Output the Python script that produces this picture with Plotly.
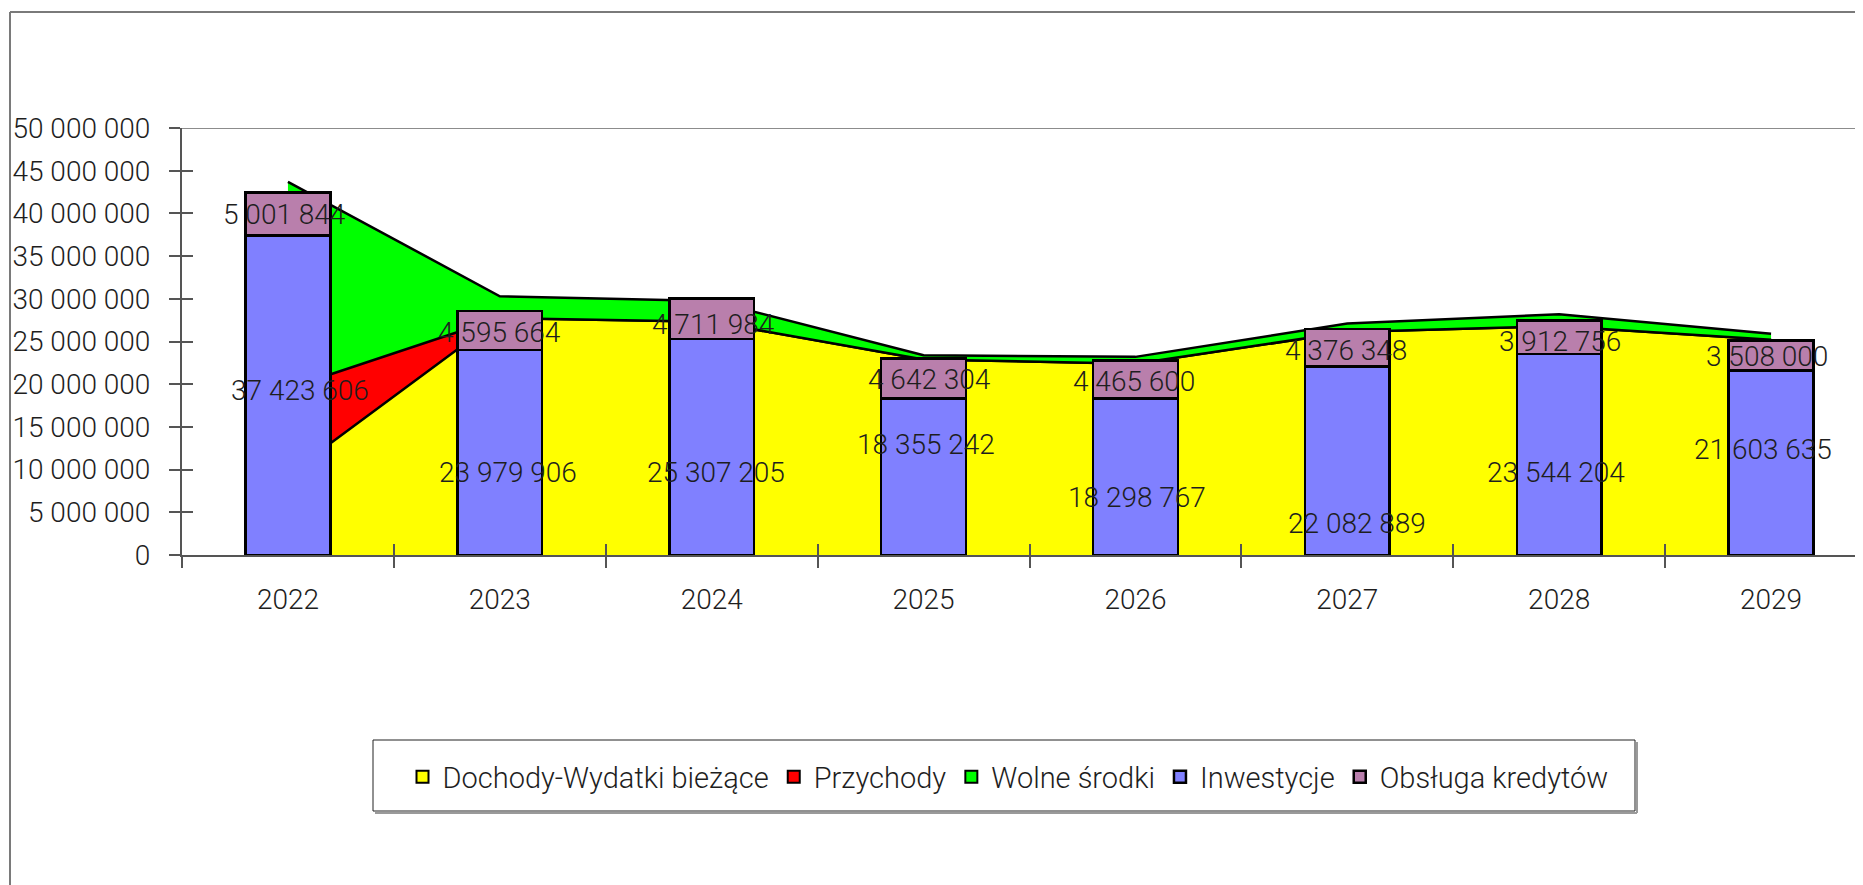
import plotly.graph_objects as go

# ---------------- data ----------------
years = ["2022", "2023", "2024", "2025", "2026", "2027", "2028", "2029"]
dochody_wydatki = [9_400_000, 27_750_000, 27_300_000, 22_900_000, 22_400_000, 26_100_000, 26_800_000, 25_200_000]
przychody = [10_100_000, 0, 0, 0, 0, 0, 0, 0]
wolne_srodki = [24_200_000, 2_550_000, 2_450_000, 500_000, 800_000, 1_000_000, 1_400_000, 700_000]
inwestycje = [37_423_606, 23_979_906, 25_307_205, 18_355_242, 18_298_767, 22_082_889, 23_544_204, 21_603_635]
obsluga_kredytow = [5_001_844, 4_595_664, 4_711_984, 4_642_304, 4_465_600, 4_376_348, 3_912_756, 3_508_000]
y_ticks = [0, 5_000_000, 10_000_000, 15_000_000, 20_000_000, 25_000_000,
           30_000_000, 35_000_000, 40_000_000, 45_000_000, 50_000_000]

# data-label placement (labels were dragged in the original chart)
inw_label_pos = [19_300_000, 9_660_000, 9_660_000, 12_900_000, 6_760_000, 3_640_000, 9_660_000, 12_400_000]
obs_label_pos = [39_900_000, 26_000_000, 27_000_000, 20_600_000, 20_300_000, 24_000_000, 25_000_000, 23_200_000]
inw_label_dx = [12, 8, 4, 2, 2, 10, -3, -8]
obs_label_dx = [-3, 0, 2, 6, -1, -1, 1, -4]

W, H = 1863, 885
OFF = 8  # page body margin offset
FONT = "Roboto"
TXT = "#1e1e1e"


def fmt(v):
    return f"{v:,}".replace(",", " ")


def px(x):
    return (x - OFF) / W


def py(y):
    return 1 - (y - OFF) / H


fig = go.Figure()

area_specs = [
    ("Dochody-Wydatki bieżące", dochody_wydatki, "#FFFF00"),
    ("Przychody", przychody, "#FF0000"),
    ("Wolne środki", wolne_srodki, "#00FF00"),
]
for name, vals, col in area_specs:
    fig.add_trace(go.Scatter(
        x=years, y=vals, name=name, stackgroup="a", mode="lines",
        line=dict(color="black", width=2.5), fillcolor=col,
        xaxis="x", yaxis="y", hoverinfo="skip", showlegend=False))

# legend entries with box symbols for the areas
for rank, (name, vals, col) in enumerate(area_specs):
    fig.add_trace(go.Bar(
        x=[None], y=[None], name=name, xaxis="x", yaxis="y", legendrank=rank + 1,
        marker=dict(color=col, line=dict(color="black", width=2))))

fig.add_trace(go.Bar(
    x=years, y=inwestycje, name="Inwestycje", xaxis="x2", yaxis="y2", legendrank=4,
    marker=dict(color="#8080FF", line=dict(color="black", width=2.5))))
fig.add_trace(go.Bar(
    x=years, y=obsluga_kredytow, name="Obsługa kredytów", xaxis="x2", yaxis="y2", legendrank=5,
    marker=dict(color="#B97FAC", line=dict(color="black", width=2.5))))

lab_font = dict(family=FONT, size=28, color=TXT, weight=300)
annotations = []
for i, yr in enumerate(years):
    annotations.append(dict(x=i, y=inw_label_pos[i], xref="x", yref="y",
                            text=fmt(inwestycje[i]), showarrow=False, xshift=inw_label_dx[i],
                            font=lab_font))
    annotations.append(dict(x=i, y=obs_label_pos[i], xref="x", yref="y",
                            text=fmt(obsluga_kredytow[i]), showarrow=False, xshift=obs_label_dx[i],
                            font=lab_font))

x_left = px(182)
y_dom = [py(555), py(128)]
xr = [-0.5, 7.5 - (1877 - (W + OFF)) / 212]
ymax = y_ticks[-1]

tickfont = dict(family=FONT, size=28, color=TXT, weight=300)

fig.update_layout(
    width=W, height=H,
    margin=dict(l=0, r=0, t=0, b=0),
    paper_bgcolor="white", plot_bgcolor="rgba(0,0,0,0)",
    separators=", ",
    barmode="stack", bargap=0.6,
    showlegend=True,
    font=dict(family=FONT, color=TXT),
    xaxis=dict(domain=[x_left, 1], type="category", categoryarray=years, categoryorder="array",
               range=xr,
               showline=True, linecolor="#555", linewidth=2,
               ticks="outside", ticklen=11, tickcolor="#555", tickwidth=1.5,
               tickson="boundaries", tickfont=tickfont, ticklabelstandoff=18,
               showgrid=False, zeroline=False, fixedrange=True, automargin=False),
    xaxis2=dict(overlaying="x", anchor="y2", type="category", categoryarray=years,
                categoryorder="array", range=xr,
                showline=False, ticks="inside", ticklen=11, tickcolor="#555", tickwidth=1.5,
                tickson="boundaries", showticklabels=False,
                showgrid=False, zeroline=False, fixedrange=True),
    yaxis=dict(domain=y_dom, range=[0, ymax], tickvals=y_ticks, tickformat=",.0f",
               showline=True, linecolor="#555", linewidth=2,
               ticks="outside", ticklen=11, tickcolor="#555", tickwidth=1.5,
               tickfont=tickfont, ticklabelstandoff=13,
               showgrid=False, zeroline=False, fixedrange=True, automargin=False),
    yaxis2=dict(overlaying="y", anchor="x2", range=[0, ymax], tickvals=y_ticks,
                showline=False, ticks="inside", ticklen=11, tickcolor="#555", tickwidth=1.5,
                showticklabels=False, showgrid=False, zeroline=False, fixedrange=True),
    legend=dict(orientation="h", x=px(1008), xanchor="center", y=py(777), yanchor="middle",
                font=dict(family=FONT, size=29, color=TXT, weight=300),
                bgcolor="rgba(0,0,0,0)", borderwidth=0, traceorder="normal"),
    annotations=annotations,
    shapes=[
        # outer frame (left and top edges visible)
        dict(type="line", xref="paper", yref="paper", x0=px(10), x1=1.01, y0=py(12), y1=py(12),
             line=dict(color="#7a7a7a", width=2)),
        dict(type="line", xref="paper", yref="paper", x0=px(10), x1=px(10), y0=py(12), y1=-0.01,
             line=dict(color="#7a7a7a", width=2)),
        # plot-area top border
        dict(type="line", xref="paper", yref="y", x0=x_left, x1=1.0, y0=ymax, y1=ymax,
             line=dict(color="#8c8c8c", width=2)),
        # legend box with slight shadow
        dict(type="line", xref="paper", yref="paper", x0=px(375), x1=px(1637), y0=py(813), y1=py(813),
             line=dict(color="#9a9a9a", width=2)),
        dict(type="line", xref="paper", yref="paper", x0=px(1637), x1=px(1637), y0=py(742), y1=py(813),
             line=dict(color="#9a9a9a", width=2)),
        dict(type="rect", xref="paper", yref="paper", x0=px(373), x1=px(1635), y0=py(811), y1=py(740),
             line=dict(color="#222", width=1)),
    ],
)

fig.write_html("out.html")
